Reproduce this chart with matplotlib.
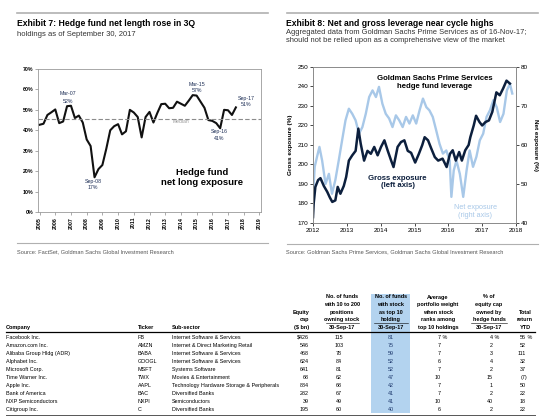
import numpy as np
import pandas as pd
import matplotlib
matplotlib.use("Agg")
import matplotlib.pyplot as plt
from matplotlib.lines import Line2D
from matplotlib.patches import Rectangle

W, H = 541, 419
NARROW = ["Liberation Sans Narrow", "Liberation Sans", "DejaVu Sans"]
plt.rcParams["font.family"] = ["Liberation Sans", "DejaVu Sans"]

# ---- Exhibit 7: quarterly net long exposure (%) from 2005Q1
net_long_start = "2005Q1"
net_long = [42.7, 43.2, 47.5, 48.8, 50.2, 43.5, 44.3, 51.8, 52.0, 46.0,
            47.2, 43.8, 35.5, 32.3, 17.0, 21.0, 23.0, 31.0, 40.0, 42.0,
            43.0, 38.0, 39.5, 50.0, 48.7, 46.5, 36.5, 46.5, 49.0, 43.8,
            48.5, 52.8, 53.0, 50.8, 51.0, 54.0, 53.0, 52.0, 54.5, 57.2,
            57.0, 54.0, 51.0, 45.0, 44.6, 43.5, 41.0, 50.0, 49.8, 47.5, 51.2]
median_level = 45.7
callouts = [("Mar-07", "52%"), ("Sep-08", "17%"), ("Mar-15", "57%"),
            ("Sep-16", "41%"), ("Sep-17", "51%")]
callout_pos = [(2006.8, 58.0, 54.3), (2008.4, 14.7, 11.9), (2015.0, 62.6, 59.4),
               (2016.45, 39.3, 35.8), (2018.15, 55.7, 52.8)]

# ---- Exhibit 8: GS prime services leverage (decimal years)
gross_t = [2012.00, 2012.02, 2012.07, 2012.15, 2012.22, 2012.32, 2012.42, 2012.50,
           2012.57, 2012.66, 2012.73, 2012.81, 2012.91, 2012.98, 2013.06, 2013.16,
           2013.26, 2013.34, 2013.41, 2013.51, 2013.61, 2013.71, 2013.81, 2013.91,
           2014.01, 2014.11, 2014.21, 2014.31, 2014.38, 2014.50, 2014.60, 2014.70,
           2014.80, 2014.90, 2015.02, 2015.13, 2015.23, 2015.30, 2015.40, 2015.50,
           2015.60, 2015.70, 2015.83, 2015.95, 2016.05, 2016.13, 2016.22, 2016.32,
           2016.40, 2016.50, 2016.60, 2016.65, 2016.75, 2016.82, 2016.92, 2017.00,
           2017.10, 2017.20, 2017.30, 2017.42, 2017.52, 2017.62, 2017.72, 2017.82]
gross = [173, 180, 188.5, 192, 193, 189, 186, 183,
         180.8, 181.6, 188.5, 185, 189, 193.6, 202, 204.7,
         207, 218.4, 210.7, 202, 207, 205.5, 209, 204.7,
         209, 212.4, 207, 202, 198.7, 209, 211.5, 212.4,
         207, 206, 201, 205.5, 210, 214, 212.4, 208,
         203.8, 202, 203, 198.7, 205.5, 207.3, 202, 206.4,
         202, 207.3, 210, 214, 220, 225, 221.8, 220,
         221.8, 222.6, 227, 237, 235.5, 239, 243, 241.5]
net_t = [2012.00, 2012.05, 2012.12, 2012.19, 2012.27, 2012.37, 2012.47, 2012.56,
         2012.66, 2012.76, 2012.86, 2012.96, 2013.06, 2013.16, 2013.26, 2013.36,
         2013.46, 2013.56, 2013.66, 2013.76, 2013.86, 2013.95, 2014.05, 2014.15,
         2014.25, 2014.35, 2014.45, 2014.55, 2014.65, 2014.75, 2014.85, 2014.95,
         2015.05, 2015.15, 2015.25, 2015.35, 2015.44, 2015.54, 2015.64, 2015.74,
         2015.84, 2015.94, 2016.04, 2016.09, 2016.16, 2016.24, 2016.34, 2016.44,
         2016.54, 2016.63, 2016.73, 2016.83, 2016.93, 2017.03, 2017.13, 2017.23,
         2017.33, 2017.43, 2017.53, 2017.63, 2017.73, 2017.82, 2017.89]
net = [46.7, 54.4, 57, 59.5, 56, 50, 52.6, 47.5,
       51, 56, 61.2, 66.3, 69.3, 68, 66.3, 62.9,
       64.6, 68, 72.3, 74, 72.3, 74.9, 70.6, 68,
       66.8, 64.6, 67.6, 66.3, 64.6, 67.2, 65.5, 67.6,
       65.5, 68.9, 71.9, 69.7, 68.9, 67.2, 63.8, 60.3,
       57.8, 58.6, 56, 46.7, 53.5, 56, 52.6, 46.7,
       53.5, 58.6, 54.4, 57, 61.2, 62.9, 67.2, 68.9,
       71.5, 69.7, 65.9, 68, 74, 75.7, 73.2]

# ---- Top-10 holdings table
companies = ["Facebook Inc.", "Amazon.com Inc.", "Alibaba Group Hldg (ADR)", "Alphabet Inc.",
             "Microsoft Corp.", "Time Warner Inc.", "Apple Inc.", "Bank of America",
             "NXP Semiconductors", "Citigroup Inc."]
tickers = ["FB", "AMZN", "BABA", "GOOGL", "MSFT", "TWX", "AAPL", "BAC", "NXPI", "C"]
subsectors = ["Internet Software & Services", "Internet & Direct Marketing Retail",
              "Internet Software & Services", "Internet Software & Services",
              "Systems Software", "Movies & Entertainment",
              "Technology Hardware Storage & Peripherals", "Diversified Banks",
              "Semiconductors", "Diversified Banks"]
equity_cap = ["$426", "546", "468", "624", "641", "68", "884", "282", "39", "195"]
funds_owning = [115, 103, 78, 84, 81, 62, 68, 67, 49, 60]
funds_top10 = [81, 75, 59, 52, 52, 47, 42, 41, 41, 40]
avg_weight = [7, 7, 7, 6, 7, 10, 7, 7, 10, 6]
pct_owned = [4, 2, 3, 4, 2, 15, 1, 2, 40, 2]
ytd_return = ["56", "52", "111", "32", "37", "(7)", "50", "22", "18", "22"]


def fx(x):
    return x / W


def fy(y):
    return 1 - y / H


def put(x, y, s, **kw):
    kw.setdefault("va", "center")
    return fig.text(fx(x), fy(y), s, **kw)


def hline(x0, x1, y, color="black", lw=0.6):
    fig.add_artist(Line2D([fx(x0), fx(x1)], [fy(y), fy(y)], color=color, lw=lw))


fig = plt.figure(figsize=(W / 100, H / 100), dpi=100)

# headers
grey = "#b0b0b0"
hline(17, 268, 13, color=grey, lw=1.2)
hline(287, 538, 13, color=grey, lw=1.2)
put(17, 24, "Exhibit 7: Hedge fund net length rose in 3Q", family=NARROW,
    fontsize=6.2, fontweight="bold")
put(17, 34, "holdings as of September 30, 2017", family=NARROW, fontsize=5.5, color="#333333")
put(286, 23, "Exhibit 8: Net and gross leverage near cycle highs", family=NARROW,
    fontsize=6.2, fontweight="bold")
put(286, 32, "Aggregated data from Goldman Sachs Prime Services as of 16-Nov-17;",
    family=NARROW, fontsize=5.4, color="#333333")
put(286, 41, "should not be relied upon as a comprehensive view of the market",
    family=NARROW, fontsize=5.4, color="#333333")

hline(17, 268, 243, color=grey, lw=0.8)
hline(287, 538, 244, color=grey, lw=0.8)
put(17, 252, "Source: FactSet, Goldman Sachs Global Investment Research", family=NARROW,
    fontsize=4.1, color="#555555")
put(286, 252, "Source: Goldman Sachs Prime Services, Goldman Sachs Global Investment Research",
    family=NARROW, fontsize=4.1, color="#555555")

# ---- left chart
ax1 = fig.add_axes([fx(38), fy(212), (261 - 38) / W, (212 - 69) / H])
q = pd.period_range(net_long_start, periods=len(net_long), freq="Q")
xq = q.year + (q.quarter - 1) / 4
ax1.plot(xq, net_long, color="#111111", lw=1.5, solid_joinstyle="round")
ax1.axhline(median_level, color="#8c8c8c", lw=0.8, ls=(0, (4, 2)))
ax1.text(2014.0, median_level - 2.0, "Median", fontsize=3.6, color="#9a9a9a", ha="center")
for (lab, val), (x, y1, y2) in zip(callouts, callout_pos):
    ax1.text(x, y1, lab, fontsize=3.8, color="#1f3057", ha="center", va="center")
    ax1.text(x, y2, val, fontsize=3.8, color="#1f3057", ha="center", va="center")
ax1.text(2015.35, 17, "Hedge fund\nnet long exposure", fontsize=6.8, fontweight="bold",
         ha="center", va="center", linespacing=1.15)
ax1.set_xlim(2004.9, 2019.1)
ax1.set_ylim(0, 70)
ax1.set_xticks(range(2005, 2020))
ax1.set_xticklabels([str(y) for y in range(2005, 2020)], rotation=90, fontsize=3.8,
                    fontweight="bold")
ax1.set_yticks(range(0, 71, 10))
ax1.set_yticklabels(["%d%%" % v for v in range(0, 71, 10)], fontsize=3.8, fontweight="bold")
ax1.tick_params(length=2, width=0.5, pad=1.5, color="#888888")
for s in ax1.spines.values():
    s.set_color("#9a9a9a")
    s.set_linewidth(0.6)

# ---- right chart
ax2 = fig.add_axes([fx(313), fy(223), (516 - 313) / W, (223 - 67) / H])
ax3 = ax2.twinx()
ax3.plot(net_t, net, color="#a8c8e8", lw=1.7)
ax2.plot(gross_t, gross, color="#0c1f3d", lw=1.8)
ax2.set_zorder(ax3.get_zorder() + 1)
ax2.patch.set_visible(False)
ax2.set_xlim(2012, 2018)
ax2.set_ylim(170, 250)
ax3.set_ylim(40, 80)
ax2.set_xticks(range(2012, 2019))
ax2.set_xticklabels([str(y) for y in range(2012, 2019)], fontsize=4.6)
ax2.set_yticks(range(170, 251, 10))
ax2.tick_params(labelsize=4.6, length=2, width=0.5, pad=1.5)
ax3.set_yticks(range(40, 81, 10))
ax3.tick_params(labelsize=4.6, length=2, width=0.5, pad=1.5)
ax2.set_ylabel("Gross exposure (%)", fontsize=4.6, fontweight="bold", labelpad=3)
ax3.set_ylabel("Net exposure (%)", fontsize=4.6, fontweight="bold", rotation=-90, labelpad=7)
for a in (ax2, ax3):
    for s in a.spines.values():
        s.set_color("#8a8a8a")
        s.set_linewidth(0.6)
ax2.text(2015.6, 242, "Goldman Sachs Prime Services\nhedge fund leverage", fontsize=5.6,
         fontweight="bold", ha="center", va="center", linespacing=1.1)
ax2.text(2014.5, 191, "Gross exposure\n(left axis)", fontsize=5.6, fontweight="bold",
         ha="center", va="center", color="#0c1f3d", linespacing=1.1)
ax2.text(2016.8, 176, "Net exposure\n(right axis)", fontsize=5.2, ha="center", va="center",
         color="#a8c8e8", linespacing=1.1)

# ---- table
fig.add_artist(Rectangle((fx(371), fy(413)), (410 - 371) / W, (413 - 294) / H,
                         transform=fig.transFigure, color="#b3d3ef", lw=0, zorder=0))
hfs = 4.0
bfs = 3.9
head_y = [297, 304.5, 312, 319.5, 327]
heads = [
    (342, ["No. of funds", "with 10 to 200", "positions", "owning stock", "30-Sep-17"]),
    (391, ["No. of funds", "with stock", "as top 10", "holding", "30-Sep-17"]),
    (438, ["Average", "portfolio weight", "when stock", "ranks among", "top 10 holdings"]),
    (489, ["% of", "equity cap", "owned by", "hedge funds", "30-Sep-17"]),
]
for x, lines in heads:
    for y, s in zip(head_y, lines):
        put(x, y, s, ha="center", fontsize=hfs, fontweight="bold")
for y, s in zip(head_y[2:], ["Equity", "cap", "($ bn)"]):
    put(309, y, s, ha="right", fontsize=hfs, fontweight="bold")
for y, s in zip(head_y[2:], ["Total", "return", "YTD"]):
    put(525, y, s, ha="center", fontsize=hfs, fontweight="bold")
put(6, 327, "Company", fontsize=hfs, fontweight="bold")
put(138, 327, "Ticker", fontsize=hfs, fontweight="bold")
put(172, 327, "Sub-sector", fontsize=hfs, fontweight="bold")
hline(326, 359, 323.2, lw=0.4)
hline(374, 408, 323.2, lw=0.4)
hline(471, 507, 323.2, lw=0.4)
hline(6, 535, 331.5, lw=0.9)
hline(6, 535, 415, color="#555555", lw=0.7)

for i in range(len(companies)):
    y = 337 + 8.1 * i
    put(6, y, companies[i], fontsize=bfs)
    put(138, y, tickers[i], fontsize=bfs)
    put(172, y, subsectors[i], fontsize=bfs)
    put(309, y, equity_cap[i], ha="right", fontsize=bfs)
    put(339, y, str(funds_owning[i]), ha="center", fontsize=bfs)
    put(391, y, str(funds_top10[i]), ha="center", fontsize=bfs, color="#1f3a6e")
    put(441, y, str(avg_weight[i]), ha="right", fontsize=bfs)
    put(493, y, str(pct_owned[i]), ha="right", fontsize=bfs)
    put(526 + (1.5 if ytd_return[i].startswith("(") else 0), y, ytd_return[i],
        ha="right", fontsize=bfs)
    if i == 0:
        put(441, y, " %", ha="left", fontsize=bfs)
        put(493, y, " %", ha="left", fontsize=bfs)
        put(526, y, " %", ha="left", fontsize=bfs)

fig.savefig("out.png", dpi=100)
